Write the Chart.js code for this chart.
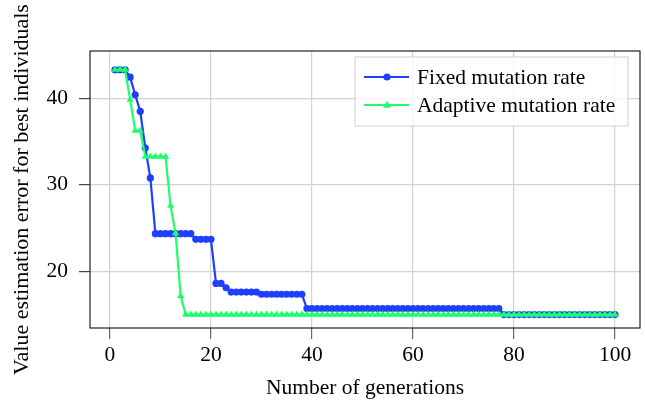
<!DOCTYPE html>
<html>
<head>
<meta charset="utf-8">
<script src="https://cdn.jsdelivr.net/npm/chart.js@4.4.1/dist/chart.umd.min.js"></script>
<style>
  html, body { margin: 0; padding: 0; background: #fff; }
  #wrap { width: 645px; height: 407px; }
</style>
</head>
<body>
<div id="wrap"><canvas id="chart"></canvas></div>
<script>
// generations 1..100
const generations = Array.from({ length: 100 }, (_, i) => i + 1);

// Fixed mutation rate (blue, circles)
const fixedRate = [
  43.3, 43.3, 43.3, 42.45, 40.4, 38.5, 34.25, 30.8,
  24.35, 24.35, 24.35, 24.35, 24.35, 24.35, 24.35, 24.35,
  23.7, 23.7, 23.7, 23.7,
  18.6, 18.6, 18.1,
  17.6, 17.6, 17.6, 17.6, 17.6, 17.6,
  17.35, 17.35, 17.35, 17.35, 17.35, 17.35, 17.35, 17.35, 17.35,
  15.7, 15.7, 15.7, 15.7, 15.7, 15.7, 15.7, 15.7, 15.7, 15.7,
  15.7, 15.7, 15.7, 15.7, 15.7, 15.7, 15.7, 15.7, 15.7, 15.7,
  15.7, 15.7, 15.7, 15.7, 15.7, 15.7, 15.7, 15.7, 15.7, 15.7,
  15.7, 15.7, 15.7, 15.7, 15.7, 15.7, 15.7, 15.7, 15.7,
  15.0, 15.0, 15.0, 15.0, 15.0, 15.0, 15.0, 15.0, 15.0, 15.0,
  15.0, 15.0, 15.0, 15.0, 15.0, 15.0, 15.0, 15.0, 15.0, 15.0,
  15.0, 15.0, 15.0
];

// Adaptive mutation rate (green, triangles)
const adaptiveRate = [
  43.3, 43.3, 43.3, 39.85, 36.25, 36.25,
  33.25, 33.25, 33.25, 33.25, 33.25,
  27.6, 24.4, 17.15,
  15.0, 15.0, 15.0, 15.0, 15.0, 15.0, 15.0, 15.0, 15.0, 15.0,
  15.0, 15.0, 15.0, 15.0, 15.0, 15.0, 15.0, 15.0, 15.0, 15.0,
  15.0, 15.0, 15.0, 15.0, 15.0, 15.0, 15.0, 15.0, 15.0, 15.0,
  15.0, 15.0, 15.0, 15.0, 15.0, 15.0, 15.0, 15.0, 15.0, 15.0,
  15.0, 15.0, 15.0, 15.0, 15.0, 15.0, 15.0, 15.0, 15.0, 15.0,
  15.0, 15.0, 15.0, 15.0, 15.0, 15.0, 15.0, 15.0, 15.0, 15.0,
  15.0, 15.0, 15.0, 15.0, 15.0, 15.0, 15.0, 15.0, 15.0, 15.0,
  15.0, 15.0, 15.0, 15.0, 15.0, 15.0, 15.0, 15.0, 15.0, 15.0,
  15.0, 15.0, 15.0, 15.0, 15.0, 15.0
];

const seriesLabels = ["Fixed mutation rate", "Adaptive mutation rate"];
const xTicks = [0, 20, 40, 60, 80, 100];
const yTicks = [20, 30, 40];

const BLUE = "#1f3fff";
const GREEN = "#1dff6c";
const FONT = "'Liberation Serif', 'Times New Roman', serif";

const toPoints = arr => arr.map((v, i) => ({ x: generations[i], y: v }));

// frame around the plot area + legend box drawn on top
const framePlugin = {
  id: "frame",
  afterDatasetsDraw(chart) {
    const { ctx, chartArea: a } = chart;
    ctx.save();
    ctx.strokeStyle = "#222";
    ctx.lineWidth = 1.2;
    ctx.strokeRect(a.left, a.top, a.right - a.left, a.bottom - a.top);

    // legend
    const bx = a.right - 285, by = a.top + 6, bw = 273, bh = 69;
    ctx.fillStyle = "rgba(255,255,255,0.8)";
    ctx.fillRect(bx, by, bw, bh);
    ctx.strokeStyle = "#cfcfcf";
    ctx.lineWidth = 1;
    ctx.strokeRect(bx, by, bw, bh);
    ctx.font = "21.5px " + FONT;
    ctx.textBaseline = "middle";
    chart.data.datasets.forEach((ds, i) => {
      const y = by + 20 + i * 28;
      ctx.strokeStyle = ds.borderColor;
      ctx.lineWidth = 2.2;
      ctx.beginPath();
      ctx.moveTo(bx + 9, y);
      ctx.lineTo(bx + 54, y);
      ctx.stroke();
      ctx.fillStyle = ds.borderColor;
      ctx.beginPath();
      if (ds.pointStyle === "triangle") {
        ctx.moveTo(bx + 32, y - 4.5);
        ctx.lineTo(bx + 36, y + 2.8);
        ctx.lineTo(bx + 28, y + 2.8);
        ctx.closePath();
      } else {
        ctx.arc(bx + 32, y, 3.6, 0, Math.PI * 2);
      }
      ctx.fill();
      ctx.fillStyle = "#000";
      ctx.fillText(ds.label, bx + 62, y + 1);
    });
    ctx.restore();
  }
};

const ctx = document.getElementById("chart").getContext("2d");
new Chart(ctx, {
  type: "line",
  data: {
    datasets: [
      {
        label: seriesLabels[0],
        data: toPoints(fixedRate),
        borderColor: BLUE,
        backgroundColor: BLUE,
        borderWidth: 2.2,
        pointStyle: "circle",
        pointRadius: 3.6,
        pointBorderWidth: 0,
        tension: 0,
        order: 1
      },
      {
        label: seriesLabels[1],
        data: toPoints(adaptiveRate),
        borderColor: GREEN,
        backgroundColor: GREEN,
        borderWidth: 2.2,
        pointStyle: "triangle",
        pointRadius: 4.2,
        pointBorderWidth: 0,
        tension: 0,
        order: 0
      }
    ]
  },
  options: {
    responsive: true,
    maintainAspectRatio: false,
    animation: false,
    layout: { padding: { top: 51, right: 5, left: 0, bottom: 0 } },
    plugins: {
      legend: { display: false },
      tooltip: { enabled: false }
    },
    scales: {
      x: {
        type: "linear",
        min: -3.95,
        max: 104.95,
        afterBuildTicks: s => { s.ticks = xTicks.map(v => ({ value: v })); },
        afterFit: s => { s.height = 79; },
        grid: { color: "#d2d2d2", lineWidth: 1.2, tickLength: 11, tickColor: "#666", tickWidth: 1.2 },
        border: { display: false },
        ticks: { color: "#000", padding: 3, maxRotation: 0, font: { family: FONT, size: 21.5 } },
        title: {
          display: true,
          text: "Number of generations",
          color: "#000",
          font: { family: FONT, size: 21.5, lineHeight: 1.2 },
          padding: { top: 0, bottom: 6 }
        }
      },
      y: {
        min: 13.45,
        max: 45.47,
        afterBuildTicks: s => { s.ticks = yTicks.map(v => ({ value: v })); },
        afterFit: s => { s.width = 90; },
        grid: { color: "#d2d2d2", lineWidth: 1.2, tickLength: 11, tickColor: "#444", tickWidth: 1.2 },
        border: { display: false },
        ticks: { color: "#000", padding: 11, font: { family: FONT, size: 21.5 } },
        title: {
          display: true,
          text: "Value estimation error for best individuals",
          color: "#000",
          font: { family: FONT, size: 22, lineHeight: 1.2 },
          padding: { top: 9, bottom: 0 }
        }
      }
    }
  },
  plugins: [framePlugin]
});
</script>
</body>
</html>
